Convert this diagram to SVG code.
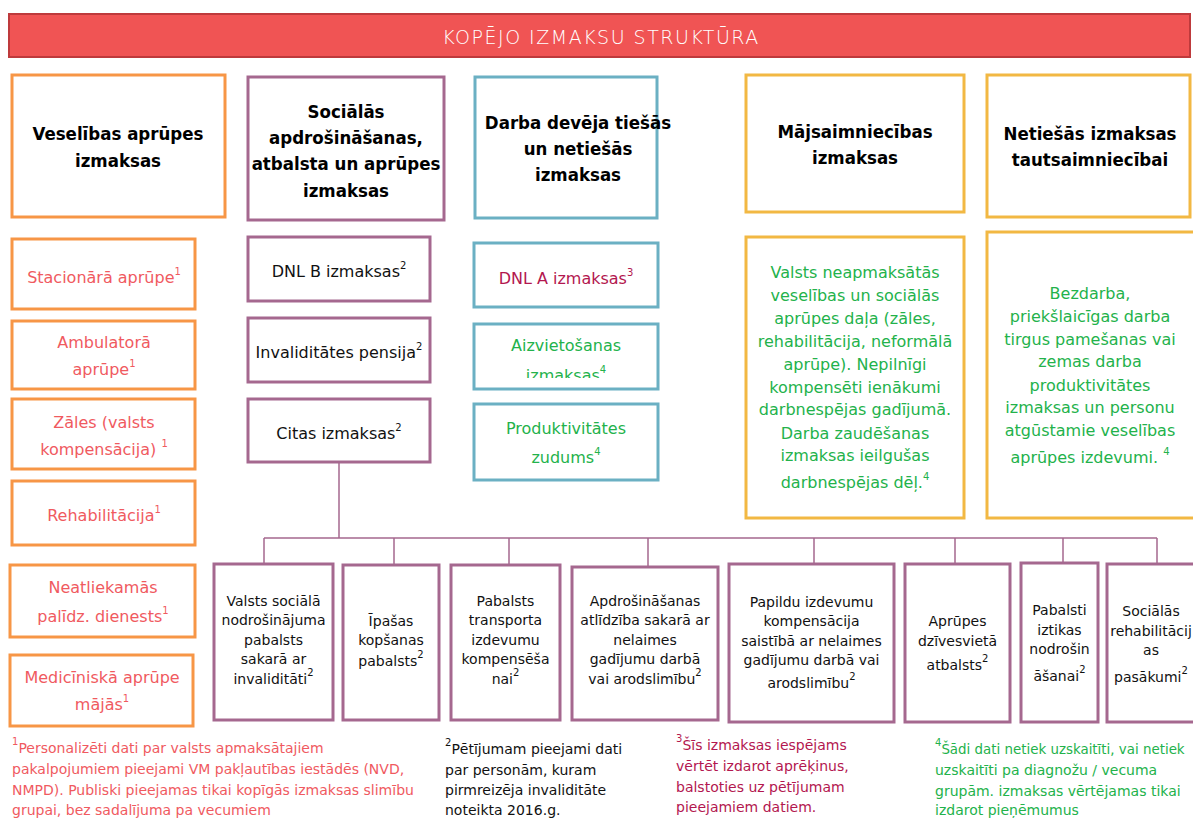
<svg xmlns="http://www.w3.org/2000/svg" width="1193" height="818" viewBox="0 0 1193 818">
<defs>
<style>
.box{fill:#fff;stroke-width:3}
.or{stroke:#F79646}
.pu{stroke:#A5688F}
.te{stroke:#6BB0C3}
.ye{stroke:#F2B843}
.h{font-family:"DejaVu Sans Condensed","Liberation Sans",sans-serif;font-weight:bold;font-size:18.5px;fill:#000;text-anchor:middle}
.t{font-family:"DejaVu Sans",sans-serif;font-size:16px;text-anchor:middle}
.s{font-family:"DejaVu Sans",sans-serif;font-size:14px;text-anchor:middle;fill:#111}
.f{font-family:"DejaVu Sans",sans-serif;font-size:14px}
.f4{font-size:13.4px}
.red{fill:#F05A5F}
.grn{fill:#23B24B}
.crm{fill:#B3174F}
.blk{fill:#111}
.sup{font-size:10px}
.con{fill:none;stroke:#A5688F;stroke-width:1.5}
</style>
<clipPath id="clipAiz"><rect x="475" y="320" width="183" height="58"/></clipPath>
</defs>
<rect width="1193" height="818" fill="#fff"/>

<g id="banner">
<rect x="9" y="14" width="1181" height="43" fill="#F05454" stroke="#BE3A3C" stroke-width="2"/>
<text x="601" y="44" font-family="DejaVu Sans, sans-serif" font-weight="200" font-size="19" letter-spacing="1.5" fill="#fff" text-anchor="middle">KOPĒJO IZMAKSU STRUKTŪRA</text>
</g>

<g id="h-veselibas">
<rect class="box or" x="12" y="75" width="213" height="142"/>
<text class="h" x="118" y="140">Veselības aprūpes</text>
<text class="h" x="118" y="167">izmaksas</text>
</g>
<g id="h-socialas">
<rect class="box pu" x="248" y="77" width="196" height="143"/>
<text class="h" x="346" y="118">Sociālās</text>
<text class="h" x="346" y="144">apdrošināšanas,</text>
<text class="h" x="346" y="170">atbalsta un aprūpes</text>
<text class="h" x="346" y="197">izmaksas</text>
</g>
<g id="h-darba">
<rect class="box te" x="475" y="77" width="182" height="141"/>
<text class="h" x="578" y="129">Darba devēja tiešās</text>
<text class="h" x="578" y="155">un netiešās</text>
<text class="h" x="578" y="181">izmaksas</text>
</g>
<g id="h-majsaimniecibas">
<rect class="box ye" x="746" y="75" width="218" height="137"/>
<text class="h" x="855" y="138">Mājsaimniecības</text>
<text class="h" x="855" y="164">izmaksas</text>
</g>
<g id="h-netiesas">
<rect class="box ye" x="987" y="75" width="203" height="142"/>
<text class="h" x="1090" y="140">Netiešās izmaksas</text>
<text class="h" x="1090" y="166">tautsaimniecībai</text>
</g>

<g id="stacionara">
<rect class="box or" x="12" y="239" width="183" height="70"/>
<text class="t red" x="104" y="283">Stacionārā aprūpe<tspan class="sup" dy="-8">1</tspan></text>
</g>
<g id="ambulatora">
<rect class="box or" x="12" y="321" width="183" height="68"/>
<text class="t red" x="104" y="348">Ambulatorā</text>
<text class="t red" x="104" y="375">aprūpe<tspan class="sup" dy="-8">1</tspan></text>
</g>
<g id="zales">
<rect class="box or" x="12" y="399" width="183" height="70"/>
<text class="t red" x="104" y="428">Zāles (valsts</text>
<text class="t red" x="104" y="455">kompensācija) <tspan class="sup" dy="-8">1</tspan></text>
</g>
<g id="rehabilitacija">
<rect class="box or" x="12" y="481" width="183" height="64"/>
<text class="t red" x="104" y="521">Rehabilitācija<tspan class="sup" dy="-8">1</tspan></text>
</g>
<g id="neatliekamas">
<rect class="box or" x="10" y="565" width="185" height="72"/>
<text class="t red" x="103" y="593">Neatliekamās</text>
<text class="t red" x="103" y="622">palīdz. dienests<tspan class="sup" dy="-8">1</tspan></text>
</g>
<g id="medicinska">
<rect class="box or" x="10" y="655" width="183" height="71"/>
<text class="t red" x="102" y="683">Medicīniskā aprūpe</text>
<text class="t red" x="102" y="710">mājās<tspan class="sup" dy="-8">1</tspan></text>
</g>

<g id="dnlb">
<rect class="box pu" x="248" y="237" width="182" height="64"/>
<text class="t blk" x="339" y="277">DNL B izmaksas<tspan class="sup" dy="-8">2</tspan></text>
</g>
<g id="invaliditates">
<rect class="box pu" x="248" y="318" width="182" height="64"/>
<text class="t blk" x="339" y="358">Invaliditātes pensija<tspan class="sup" dy="-8">2</tspan></text>
</g>
<g id="citas">
<rect class="box pu" x="248" y="399" width="182" height="63"/>
<text class="t blk" x="339" y="439">Citas izmaksas<tspan class="sup" dy="-8">2</tspan></text>
</g>

<g id="dnla">
<rect class="box te" x="474" y="243" width="184" height="64"/>
<text class="t crm" x="566" y="284">DNL A izmaksas<tspan class="sup" dy="-8">3</tspan></text>
</g>
<g id="aizvietosanas">
<rect class="box te" x="474" y="324" width="184" height="65"/>
<text class="t grn" x="566" y="351">Aizvietošanas</text>
<text class="t grn" x="566" y="381" clip-path="url(#clipAiz)">izmaksas<tspan class="sup" dy="-8">4</tspan></text>
</g>
<g id="produktivitates">
<rect class="box te" x="474" y="404" width="184" height="76"/>
<text class="t grn" x="566" y="434">Produktivitātes</text>
<text class="t grn" x="566" y="463">zudums<tspan class="sup" dy="-8">4</tspan></text>
</g>

<g id="majsaimn-body">
<rect class="box ye" x="746" y="237" width="218" height="281"/>
<text class="t grn" x="855" y="278">Valsts neapmaksātās</text>
<text class="t grn" x="855" y="301">veselības un sociālās</text>
<text class="t grn" x="855" y="324">aprūpes daļa (zāles,</text>
<text class="t grn" x="855" y="347">rehabilitācija, neformālā</text>
<text class="t grn" x="855" y="370">aprūpe). Nepilnīgi</text>
<text class="t grn" x="855" y="393">kompensēti ienākumi</text>
<text class="t grn" x="855" y="415">darbnespējas gadījumā.</text>
<text class="t grn" x="855" y="439">Darba zaudēšanas</text>
<text class="t grn" x="855" y="461">izmaksas ieilgušas</text>
<text class="t grn" x="855" y="488">darbnespējas dēļ.<tspan class="sup" dy="-8">4</tspan></text>
</g>
<g id="netiesas-body">
<rect class="box ye" x="987" y="232" width="210" height="286"/>
<text class="t grn" x="1090" y="299">Bezdarba,</text>
<text class="t grn" x="1090" y="322">priekšlaicīgas darba</text>
<text class="t grn" x="1090" y="345">tirgus pamešanas vai</text>
<text class="t grn" x="1090" y="367">zemas darba</text>
<text class="t grn" x="1090" y="391">produktivitātes</text>
<text class="t grn" x="1090" y="413">izmaksas un personu</text>
<text class="t grn" x="1090" y="436">atgūstamie veselības</text>
<text class="t grn" x="1090" y="463">aprūpes izdevumi. <tspan class="sup" dy="-8">4</tspan></text>
</g>

<g id="connectors">
<path class="con" d="M339 462V538M264 538H1157M264 538V564M394 538V565M509 538V565M648 538V567M814 538V564M955 538V564M1063 538V563M1157 538V564"/>
</g>

<g id="b-valsts">
<rect class="box pu" x="214" y="564" width="119" height="156"/>
<text class="s" x="273.5" y="606">Valsts sociālā</text>
<text class="s" x="273.5" y="625">nodrošinājuma</text>
<text class="s" x="273.5" y="645">pabalsts</text>
<text class="s" x="273.5" y="664">sakarā ar</text>
<text class="s" x="273.5" y="684">invaliditāti<tspan class="sup" dy="-8">2</tspan></text>
</g>
<g id="b-ipasas">
<rect class="box pu" x="343" y="565" width="96" height="155"/>
<text class="s" x="391" y="626">Īpašas</text>
<text class="s" x="391" y="645">kopšanas</text>
<text class="s" x="391" y="666">pabalsts<tspan class="sup" dy="-8">2</tspan></text>
</g>
<g id="b-transporta">
<rect class="box pu" x="451" y="565" width="109" height="155"/>
<text class="s" x="505.5" y="606">Pabalsts</text>
<text class="s" x="505.5" y="625">transporta</text>
<text class="s" x="505.5" y="645">izdevumu</text>
<text class="s" x="505.5" y="664">kompensēša</text>
<text class="s" x="505.5" y="684">nai<tspan class="sup" dy="-8">2</tspan></text>
</g>
<g id="b-apdrosinasanas">
<rect class="box pu" x="572" y="567" width="146" height="153"/>
<text class="s" x="645" y="606">Apdrošināšanas</text>
<text class="s" x="645" y="625">atlīdzība sakarā ar</text>
<text class="s" x="645" y="645">nelaimes</text>
<text class="s" x="645" y="664">gadījumu darbā</text>
<text class="s" x="645" y="684">vai arodslimību<tspan class="sup" dy="-8">2</tspan></text>
</g>
<g id="b-papildu">
<rect class="box pu" x="729" y="564" width="165" height="158"/>
<text class="s" x="811.5" y="607">Papildu izdevumu</text>
<text class="s" x="811.5" y="626">kompensācija</text>
<text class="s" x="811.5" y="646">saistībā ar nelaimes</text>
<text class="s" x="811.5" y="665">gadījumu darbā vai</text>
<text class="s" x="811.5" y="688">arodslimību<tspan class="sup" dy="-8">2</tspan></text>
</g>
<g id="b-aprupes">
<rect class="box pu" x="905" y="564" width="105" height="158"/>
<text class="s" x="957.5" y="626">Aprūpes</text>
<text class="s" x="957.5" y="646">dzīvesvietā</text>
<text class="s" x="957.5" y="670">atbalsts<tspan class="sup" dy="-8">2</tspan></text>
</g>
<g id="b-iztikas">
<rect class="box pu" x="1021" y="563" width="77" height="159"/>
<text class="s" x="1059.5" y="615">Pabalsti</text>
<text class="s" x="1059.5" y="635">iztikas</text>
<text class="s" x="1059.5" y="654">nodrošin</text>
<text class="s" x="1059.5" y="681">āšanai<tspan class="sup" dy="-8">2</tspan></text>
</g>
<g id="b-rehabilitacijas">
<rect class="box pu" x="1107" y="564" width="100" height="158"/>
<text class="s" x="1151" y="616">Sociālās</text>
<text class="s" x="1151" y="636">rehabilitācij</text>
<text class="s" x="1151" y="655">as</text>
<text class="s" x="1151" y="682">pasākumi<tspan class="sup" dy="-8">2</tspan></text>
</g>

<g id="footnote1">
<text class="f red" x="12" y="753"><tspan class="sup" dy="-8">1</tspan><tspan dy="8">Personalizēti dati par valsts apmaksātajiem</tspan></text>
<text class="f red" x="12" y="774">pakalpojumiem pieejami VM pakļautības iestādēs (NVD,</text>
<text class="f red" x="12" y="795">NMPD). Publiski pieejamas tikai kopīgās izmaksas slimību</text>
<text class="f red" x="12" y="815">grupai, bez sadalījuma pa vecumiem</text>
</g>
<g id="footnote2">
<text class="f blk" x="445" y="754"><tspan class="sup" dy="-8">2</tspan><tspan dy="8">Pētījumam pieejami dati</tspan></text>
<text class="f blk" x="445" y="775">par personām, kuram</text>
<text class="f blk" x="445" y="795">pirmreizēja invaliditāte</text>
<text class="f blk" x="445" y="815">noteikta 2016.g.</text>
</g>
<g id="footnote3">
<text class="f crm" x="676" y="750"><tspan class="sup" dy="-8">3</tspan><tspan dy="8">Šīs izmaksas iespējams</tspan></text>
<text class="f crm" x="676" y="771">vērtēt izdarot aprēķinus,</text>
<text class="f crm" x="676" y="792">balstoties uz pētījumam</text>
<text class="f crm" x="676" y="812">pieejamiem datiem.</text>
</g>
<g id="footnote4">
<text class="f f4 grn" x="935" y="754"><tspan class="sup" dy="-8">4</tspan><tspan dy="8">Šādi dati netiek uzskaitīti, vai netiek</tspan></text>
<text class="f grn" x="935" y="775">uzskaitīti pa diagnožu / vecuma</text>
<text class="f grn" x="935" y="796">grupām. izmaksas vērtējamas tikai</text>
<text class="f grn" x="935" y="815">izdarot pieņēmumus</text>
</g>
</svg>
